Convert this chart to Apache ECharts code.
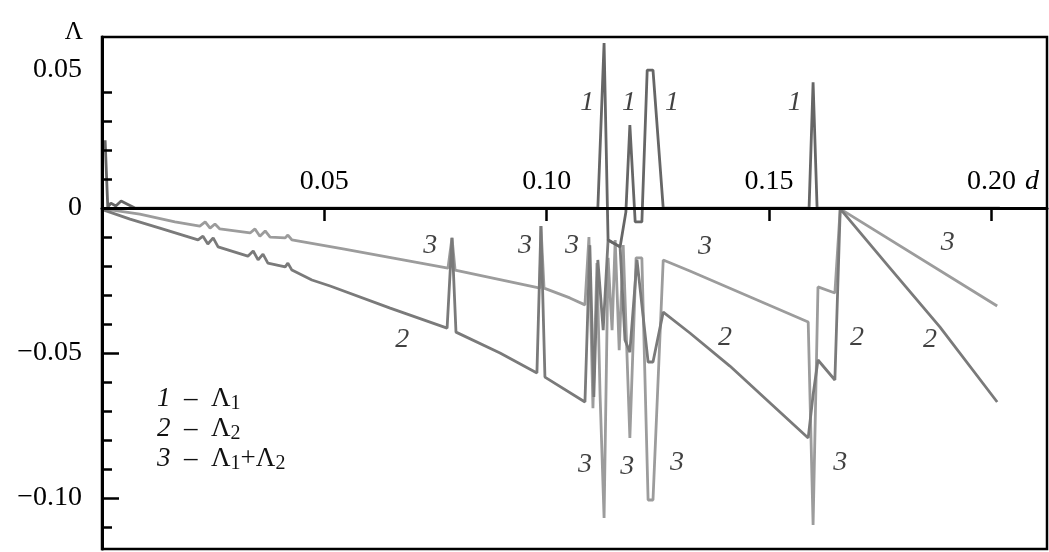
<!DOCTYPE html>
<html>
<head>
<meta charset="utf-8">
<script src="https://cdn.jsdelivr.net/npm/echarts@6/dist/echarts.min.js"></script>
<style>html,body{margin:0;padding:0;background:#fff}#c{width:1049px;height:552px}</style>
</head>
<body>
<div id="c"></div>
<script>
// ---- data ----
const xTicks = [0.05, 0.10, 0.15, 0.20];
const yLabelValues = [0.05, 0, -0.05, -0.10];
const yMinorTicks = [0.04, 0.03, 0.02, 0.01, -0.01, -0.02, -0.03, -0.04, -0.05, -0.06, -0.07, -0.08, -0.09, -0.10, -0.11];
const yMajorTicks = [-0.05, -0.10];
const yRange = [-0.1176, 0.059];

// curve 1 : Λ1
const lambda1 = [
  [0.0007, 0.0234], [0.0013, 0.0003], [0.0020, 0.0017], [0.0031, 0.0007], [0.0043, 0.0024],
  [0.0056, 0.0014], [0.0074, 0], [0.1115, 0], [0.1129, 0.0569], [0.1138, -0.0110],
  [0.1165, -0.0134], [0.1178, -0.0014], [0.1187, 0.0286], [0.1199, -0.0048], [0.1214, -0.0048],
  [0.1226, 0.0476], [0.1239, 0.0476], [0.1262, 0], [0.1590, 0], [0.1599, 0.0434],
  [0.1608, 0], [0.2019, 0]
];

// curve 2 : Λ2
const lambda2 = [
  [0.00045, -0.0007], [0.0063, -0.0038], [0.0130, -0.0069], [0.0216, -0.0110], [0.0227, -0.0097],
  [0.0238, -0.0124], [0.0250, -0.0103], [0.0261, -0.0134], [0.0328, -0.0166], [0.0340, -0.0148],
  [0.0351, -0.0179], [0.0362, -0.0159], [0.0373, -0.0190], [0.0412, -0.0203], [0.0418, -0.0190],
  [0.0427, -0.0214], [0.0472, -0.0248], [0.0513, -0.0269], [0.0648, -0.0345], [0.0776, -0.0414],
  [0.0787, -0.0103], [0.0796, -0.0428], [0.0895, -0.0500], [0.0978, -0.0569], [0.0987, -0.0062],
  [0.0996, -0.0583], [0.1086, -0.0669], [0.1097, -0.0128], [0.1106, -0.0652], [0.1115, -0.0179],
  [0.1127, -0.0421], [0.1138, -0.0110], [0.1165, -0.0134], [0.1176, -0.0455], [0.1187, -0.0497],
  [0.1203, -0.0179], [0.1228, -0.0531], [0.1239, -0.0531], [0.1262, -0.0359], [0.1322, -0.0431],
  [0.1412, -0.0545], [0.1495, -0.0662], [0.1588, -0.0793], [0.1599, -0.0645], [0.1610, -0.0524],
  [0.1648, -0.0593], [0.1660, -0.0003], [0.1772, -0.0207], [0.1884, -0.0410], [0.2013, -0.0669]
];

// curve 3 : Λ1 + Λ2
const lambda3 = [
  [0.00045, -0.0003], [0.0085, -0.0021], [0.0164, -0.0048], [0.0220, -0.0062], [0.0232, -0.0048],
  [0.0243, -0.0069], [0.0254, -0.0055], [0.0265, -0.0072], [0.0333, -0.0086], [0.0344, -0.0072],
  [0.0355, -0.0097], [0.0367, -0.0079], [0.0378, -0.0100], [0.0412, -0.0103], [0.0418, -0.0093],
  [0.0427, -0.0110], [0.0542, -0.0141], [0.0778, -0.0207], [0.0787, -0.0103], [0.0794, -0.0214],
  [0.0985, -0.0276], [0.0987, -0.0062], [0.0994, -0.0276], [0.1052, -0.0310], [0.1086, -0.0334],
  [0.1095, -0.0100], [0.1104, -0.0690], [0.1113, -0.0190], [0.1120, -0.0645], [0.1129, -0.1069],
  [0.1138, -0.0172], [0.1147, -0.0421], [0.1154, -0.0110], [0.1163, -0.0490], [0.1172, -0.0128],
  [0.1187, -0.0793], [0.1201, -0.0172], [0.1214, -0.0172], [0.1228, -0.1007], [0.1239, -0.1007],
  [0.1262, -0.0179], [0.1322, -0.0217], [0.1588, -0.0393], [0.1599, -0.1093], [0.1610, -0.0272],
  [0.1648, -0.0293], [0.1660, -0.0003], [0.2013, -0.0338]
];

// curve number annotations [d, Λ, text]
const curveLabels = [
  [0.1091, 0.0362, '1'], [0.1185, 0.0362, '1'], [0.1282, 0.0362, '1'], [0.1558, 0.0362, '1'],
  [0.0738, -0.0128, '3'], [0.0951, -0.0128, '3'], [0.1057, -0.0128, '3'], [0.1356, -0.0134, '3'], [0.1902, -0.0121, '3'],
  [0.1086, -0.0886, '3'], [0.1181, -0.0893, '3'], [0.1293, -0.0879, '3'], [0.1660, -0.0879, '3'],
  [0.0675, -0.0455, '2'], [0.1401, -0.0448, '2'], [0.1698, -0.0448, '2'], [0.1862, -0.0455, '2']
];

const legendRows = [
  ['1', '{n|\u039B}{s|1}'],
  ['2', '{n|\u039B}{s|2}'],
  ['3', '{n|\u039B}{s|1}{n|+\u039B}{s|2}']
];

// ---- chart ----
const F = '"Liberation Serif", "Times New Roman", serif';
const chart = echarts.init(document.getElementById('c'), null, {renderer: 'canvas'});

const GRID_TOP = 37, GRID_BOTTOM = 3, H = 552;
const plotH = H - GRID_TOP - GRID_BOTTOM;
// move the x axis from the grid bottom up to the Λ = 0 level
const zeroOffset = -plotH * (0 - yRange[0]) / (yRange[1] - yRange[0]);

const legendGraphics = legendRows.map((r, i) => ({
  type: 'text',
  left: 157,
  top: 385 + i * 30,
  silent: true,
  style: {
    text: '{i|' + r[0] + '}{n|  \u2013  }' + r[1],
    rich: {
      i: {fontFamily: F, fontStyle: 'italic', fontSize: 27, lineHeight: 30, fill: '#111'},
      n: {fontFamily: F, fontSize: 27, lineHeight: 30, fill: '#111'},
      s: {fontFamily: F, fontSize: 20, lineHeight: 14, verticalAlign: 'bottom', fill: '#111'}
    }
  }
}));

const lineSeries = (name, data, color, z) => ({
  name, type: 'line', data, symbol: 'none', silent: true, z,
  lineStyle: {color, width: 2.8}
});

chart.setOption({
  animation: false,
  backgroundColor: '#fff',
  grid: {left: 102, right: 2, top: GRID_TOP, bottom: GRID_BOTTOM, show: true, borderColor: '#000', borderWidth: 2.5,
         containLabel: false, outerBoundsMode: 'none'},
  xAxis: {
    type: 'value', min: 0, max: 0.2125, z: 5, position: 'bottom', offset: zeroOffset,
    axisLine: {onZero: false, lineStyle: {color: '#000', width: 3}},
    axisTick: {customValues: xTicks, inside: false, length: 13, lineStyle: {color: '#000', width: 2.5}},
    axisLabel: {customValues: xTicks, inside: true, margin: 12, formatter: v => v.toFixed(2),
                fontFamily: F, fontSize: 28, color: '#000'},
    splitLine: {show: false},
    name: 'd', nameLocation: 'end', nameGap: -22,
    nameTextStyle: {fontFamily: F, fontStyle: 'italic', fontSize: 28, color: '#000',
                    verticalAlign: 'bottom', padding: [0, 0, 12, 0]}
  },
  yAxis: [{
    type: 'value', min: yRange[0], max: yRange[1], z: 5,
    axisLine: {onZero: false, lineStyle: {color: '#000', width: 3}},
    axisTick: {customValues: yMinorTicks, inside: true, length: 10, lineStyle: {color: '#000', width: 2.5}},
    axisLabel: {customValues: yLabelValues, margin: 20, fontFamily: F, fontSize: 28, color: '#000',
                formatter: v => v === 0 ? '0' : (v > 0 ? '{dn|' + v.toFixed(2) + '}' : '\u2212' + (-v).toFixed(2)),
                rich: {dn: {fontFamily: F, fontSize: 28, color: '#000', padding: [14, 0, 0, 0]}}},
    splitLine: {show: false},
    name: '\u039B', nameLocation: 'end', nameGap: 5,
    nameTextStyle: {fontFamily: F, fontSize: 25, color: '#000', align: 'right', verticalAlign: 'middle', padding: [0, 19, 0, 0]}
  }, {
    type: 'value', min: yRange[0], max: yRange[1], position: 'left', offset: 0, z: 5,
    axisLine: {show: false},
    axisTick: {customValues: yMajorTicks, inside: true, length: 17, lineStyle: {color: '#000', width: 2.5}},
    axisLabel: {show: false},
    splitLine: {show: false}
  }],
  series: [
    lineSeries('3', lambda3, '#9c9c9c', 2),
    lineSeries('2', lambda2, '#7a7a7a', 3),
    lineSeries('1', lambda1, '#666666', 4),
    {
      type: 'scatter', data: curveLabels, symbolSize: 0, silent: true, z: 6,
      label: {show: true, position: 'inside', formatter: p => p.data[2],
              fontFamily: F, fontStyle: 'italic', fontSize: 28, color: '#111'}
    }
  ],
  graphic: legendGraphics
});
</script>
</body>
</html>
